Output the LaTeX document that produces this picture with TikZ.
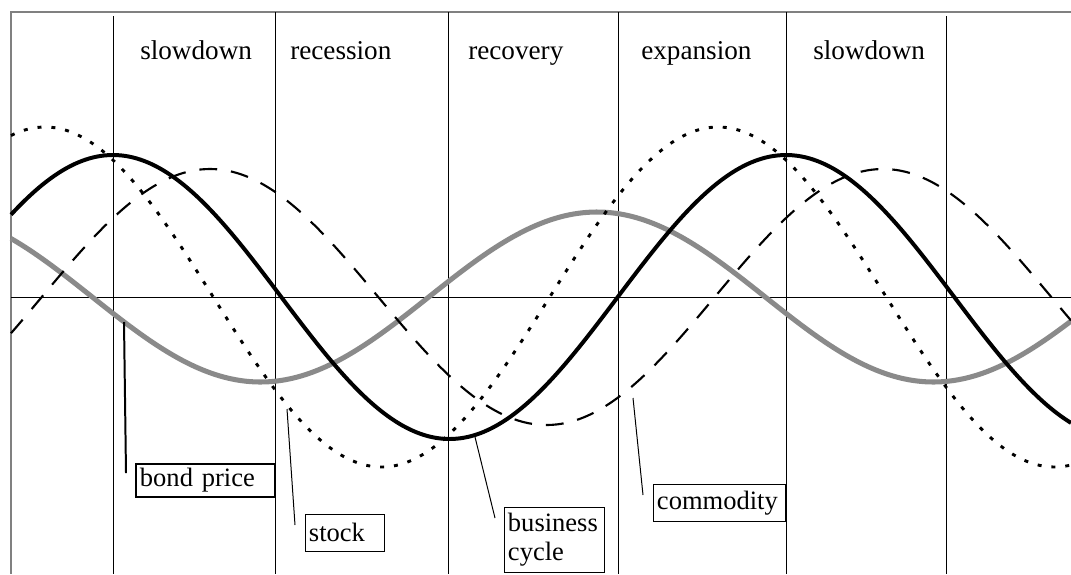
\documentclass[tikz,border=0pt]{standalone}
\usepackage{fontspec}
\setmainfont{Liberation Serif}
\definecolor{frame}{HTML}{808080}
\definecolor{bondgray}{HTML}{8A8A8A}
\begin{document}
\begin{tikzpicture}[x=0.0265cm,y=-0.0265cm,
        phase/.style={anchor=base west, inner sep=0pt, font=\fontsize{20.5}{24}\selectfont},
        tag/.style={draw, anchor=north west, align=left, inner xsep=3pt, inner ysep=0pt, line width=0.75pt, font=\fontsize{20}{22}\selectfont},
        wave/.style={domain=11:1071, samples=240, smooth}]
        \useasboundingbox (0,0) rectangle (1071,574);
        % frame and grid
        \draw[frame, line width=1.1pt] (1071,12) -- (11,12) -- (11,574);
        \draw[line width=0.75pt] (11,297) -- (1071,297);
        \foreach \xv/\yt in {113/16, 275/12, 448/12, 618/12, 786/12, 946/16}
            \draw[line width=0.75pt] (\xv,\yt) -- (\xv,574);
        % phases
        \node[phase] (S1) at (140,59) {slowdown};
        \node[phase] (R1) at (290,59) {recession};
        \node[phase] (R2) at (468,59) {recovery};
        \node[phase] (E1) at (641,59) {expansion};
        \node[phase] (S2) at (813,59) {slowdown};
        % curves
        \draw[wave, bondgray, line width=3.8pt] plot (\x, {297-85*cos((\x-597)/673*360)});
        \draw[wave, line width=1.6pt, dash pattern=on 13.5pt off 10.5pt] plot (\x, {297-128*cos((\x-210)/673*360)});
        \draw[wave, line width=2.2pt, dash pattern=on 3pt off 7.5pt] plot (\x, {297-170*cos((\x-45)/673*360)});
        \draw[wave, line width=3pt] plot (\x, {297-142*cos((\x-113)/673*360)});
        % labels
        \node[tag, line width=1.5pt, text width=99pt, minimum height=24.8pt] (bond) at (135,463) {bond price};
        \node[tag, text width=54pt, minimum height=28.5pt] (stock) at (304.5,513.5) {stock};
        \node[tag, text width=70pt, minimum height=49.6pt] (cycle) at (503.5,506.5) {business\\cycle};
        \node[tag, text width=94pt, minimum height=28.5pt] (comm) at (652.5,483.5) {commodity};
        % pointers
        \coordinate (B1) at (124,322);
        \coordinate (B2) at (126,473);
        \coordinate (S1p) at (287,409);
        \coordinate (S2p) at (295,525);
        \coordinate (C1) at (475,437);
        \coordinate (C2) at (495,518);
        \coordinate (M1) at (633,398);
        \coordinate (M2) at (643,495);
        \draw[line width=1.5pt] (B1) -- (B2);
        \draw[line width=0.75pt] (S1p) -- (S2p);
        \draw[line width=0.75pt] (C1) -- (C2);
        \draw[line width=0.75pt] (M1) -- (M2);
\end{tikzpicture}
\end{document}
